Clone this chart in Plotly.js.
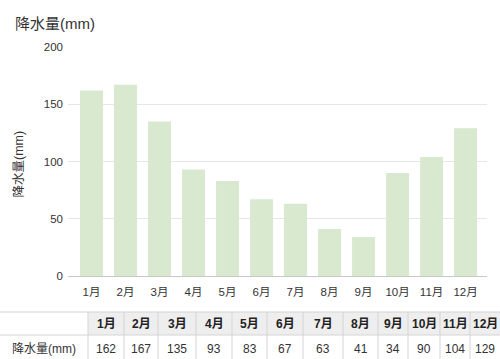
<!DOCTYPE html>
<html>
<head>
<meta charset="utf-8">
<script src="https://cdn.plot.ly/plotly-3.0.1.min.js"></script>
<style>html,body{margin:0;padding:0;background:#fff;}#chart{width:500px;height:359px;}</style>
</head>
<body>
<div id="chart"></div>
<script>
const months = ["1月","2月","3月","4月","5月","6月","7月","8月","9月","10月","11月","12月"];
const precip = [162,167,135,93,83,67,63,41,34,90,104,129];
const seriesName = "降水量(mm)";
const chartTitle = "降水量(mm)";

const FONT = "Liberation Sans, Arial, 'Noto Sans CJK JP', sans-serif";
const W = 500, H = 359;
const px = v => v / W;
const py = v => 1 - v / H;

const bar = {
  type: "bar",
  x: months,
  y: precip,
  marker: {color: "rgb(217,233,208)"},
  hoverinfo: "x+y"
};

// table geometry (pixels)
const colEdges = [0,88,124,158,196,232,267,303,343,378,408,440,470,500];
const rowTop = 312, rowMid = 335, rowBot = 362;
const lineCol = "#d4d4d4";

const shapes = [];
const annotations = [];
shapes.push({type: "rect", xref: "paper", yref: "paper",
  x0: px(colEdges[1]), x1: px(W + 5), y0: py(rowTop), y1: py(rowMid),
  fillcolor: "#eeeeee", line: {width: 0}, layer: "below"});
[rowTop, rowMid].forEach(yv => shapes.push({type: "line", xref: "paper", yref: "paper",
  x0: 0, x1: 1, y0: py(yv), y1: py(yv), line: {color: lineCol, width: 1}}));
colEdges.slice(1, -1).forEach(xv => shapes.push({type: "line", xref: "paper", yref: "paper",
  x0: px(xv), x1: px(xv), y0: py(rowTop), y1: py(rowBot), line: {color: lineCol, width: 1}}));

const headerVals = [""].concat(months);
const cellVals = [seriesName].concat(precip.map(String));
for (let i = 0; i < headerVals.length; i++) {
  const cx = (colEdges[i] + colEdges[i + 1]) / 2;
  if (headerVals[i]) annotations.push({text: "<b>" + headerVals[i] + "</b>", xref: "paper", yref: "paper",
    x: px(cx), y: py((rowTop + rowMid) / 2), xanchor: "center", yanchor: "middle", showarrow: false,
    font: {family: FONT, size: 12, color: "#222"}});
  annotations.push({text: cellVals[i], xref: "paper", yref: "paper",
    x: px(cx), y: py(349), xanchor: "center", yanchor: "middle", showarrow: false,
    font: {family: FONT, size: 12, color: "#333"}});
}

annotations.push({text: chartTitle, xref: "paper", yref: "paper", x: px(13), y: py(23),
  xanchor: "left", yanchor: "middle", showarrow: false,
  font: {family: FONT, size: 15, color: "#333"}});
annotations.push({text: seriesName, xref: "paper", yref: "paper", x: px(18.5), y: py(164),
  xanchor: "center", yanchor: "middle", showarrow: false, textangle: -90,
  font: {family: FONT, size: 12.5, color: "#333"}});

const layout = {
  width: W, height: H,
  margin: {l: 0, r: 0, t: 0, b: 0},
  paper_bgcolor: "#fff", plot_bgcolor: "#fff",
  showlegend: false,
  bargap: 0.324,
  font: {family: FONT, color: "#333"},
  xaxis: {
    domain: [px(68), px(487)],
    range: [-0.691, 11.63],
    showline: true, linecolor: "#c8c8c8", linewidth: 1,
    showgrid: false, ticks: "",
    ticklabelstandoff: 5,
    tickfont: {family: FONT, size: 11.5, color: "#333"},
    fixedrange: true
  },
  yaxis: {
    domain: [py(276), py(47)],
    range: [0, 200],
    tickvals: [0, 50, 100, 150, 200],
    showgrid: true, gridcolor: "#e6e6e6", gridwidth: 1,
    zeroline: false, showline: false, ticks: "",
    ticklabelstandoff: 4,
    tickfont: {family: FONT, size: 11.5, color: "#333"},
    fixedrange: true
  },
  shapes: shapes,
  annotations: annotations
};

Plotly.newPlot("chart", [bar], layout, {displayModeBar: false, staticPlot: true});
</script>
</body>
</html>
